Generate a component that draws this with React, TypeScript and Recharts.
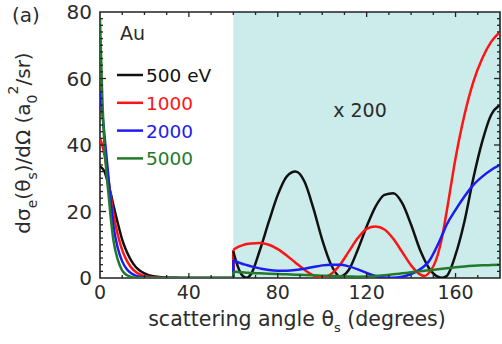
import React from "react";
import { LineChart, Line, XAxis, YAxis, ReferenceArea } from "recharts";

// Elastic scattering cross sections of Au vs. scattering angle (degrees).
// 0–60°: actual values; 60–180°: values multiplied by 200.
const LEFT_ANGLES = [0, 1, 2, 3, 4, 5, 6, 8, 10, 12, 14, 16, 18, 20, 24, 30, 36, 40, 50, 60];
const LEFT_500 = [33.5, 33, 32, 30, 27.5, 25, 22, 16.5, 11.5, 8, 5.3, 3.4, 2.2, 1.4, 0.5, 0.1, 0.03, 0, 0, 0];
const LEFT_1000 = [42, 40, 37, 33, 28.5, 24, 19.5, 13, 8.4, 5.3, 3.2, 1.9, 1.1, 0.6, 0.2, 0.03, 0, 0, 0, 0];
const LEFT_2000 = [56, 50, 43, 36, 29, 22, 16, 9, 5, 2.7, 1.4, 0.7, 0.35, 0.15, 0.03, 0, 0, 0, 0, 0];
const LEFT_5000 = [78, 55, 40, 31, 24, 17, 11.5, 5.5, 2.2, 0.9, 0.35, 0.1, 0.03, 0, 0, 0, 0, 0, 0, 0];

const RIGHT_ANGLES = [60, 62, 64, 66, 68, 72, 76, 80, 84, 88, 92, 96, 100, 104, 108, 112, 116, 120, 124, 128, 132, 136, 140, 144, 146, 148, 152, 154, 156, 160, 164, 168, 172, 176, 180];
const RIGHT_500 = [8, 3.5, 0.8, 0.1, 1.2, 8.5, 17, 25, 30.5, 32, 29, 21, 11.5, 4, 0.5, 2.5, 8.5, 15.5, 21.5, 25, 25.5, 22.5, 16, 8.5, 5.5, 3, 0.4, 0.1, 0.6, 7, 17, 30, 41, 49, 52];
const RIGHT_1000 = [8.5, 9.3, 9.8, 10.2, 10.4, 10.5, 10, 8.7, 6.8, 4.6, 2.5, 0.8, 0.1, 1.2, 4, 8, 12, 14.8, 15.5, 14.6, 11.8, 7.8, 3.8, 1.1, 0.6, 1.5, 7, 12.5, 20, 36, 49, 59, 66, 71, 74];
const RIGHT_2000 = [5.4, 4.8, 4.3, 3.9, 3.5, 2.9, 2.4, 2.2, 2.2, 2.4, 2.8, 3.3, 3.8, 4, 4, 3.5, 2.6, 1.5, 0.6, 0.15, 0.05, 0.4, 1.2, 2.6, 3.6, 5, 10, 13, 16, 20.5, 24.5, 28, 30.5, 32.5, 34];
const RIGHT_5000 = [1.9, 1.8, 1.7, 1.6, 1.5, 1.4, 1.3, 1.2, 1.1, 1, 0.9, 0.8, 0.7, 0.6, 0.5, 0.45, 0.4, 0.45, 0.6, 0.85, 1.1, 1.4, 1.7, 2, 2.15, 2.3, 2.6, 2.75, 2.9, 3.2, 3.45, 3.65, 3.8, 3.9, 4];

const SERIES = [
  { key: "e500", label: "500 eV", color: "#111111", left: LEFT_500, right: RIGHT_500 },
  { key: "e1000", label: "1000", color: "#ff1414", left: LEFT_1000, right: RIGHT_1000 },
  { key: "e2000", label: "2000", color: "#1c1cf0", left: LEFT_2000, right: RIGHT_2000 },
  { key: "e5000", label: "5000", color: "#237a2a", left: LEFT_5000, right: RIGHT_5000 },
];

// labelled ticks
const X_LABELS = [0, 40, 80, 120, 160];
const Y_LABELS = [0, 20, 40, 60, 80];
// all tick marks (every 10° / every 2 units)
const X_MARKS = [0, 10, 20, 30, 40, 50, 60, 70, 80, 90, 100, 110, 120, 130, 140, 150, 160, 170];
const Y_MARKS = [0, 2, 4, 6, 8, 10, 12, 14, 16, 18, 20, 22, 24, 26, 28, 30, 32, 34, 36, 38, 40, 42, 44, 46, 48, 50, 52, 54, 56, 58, 60, 62, 64, 66, 68, 70, 72, 74, 76, 78, 80];

const leftData = LEFT_ANGLES.map((angle, i) => {
  const row: Record<string, number> = { angle };
  SERIES.forEach((s) => (row[s.key] = s.left[i]));
  return row;
});
const rightData = RIGHT_ANGLES.map((angle, i) => {
  const row: Record<string, number> = { angle };
  SERIES.forEach((s) => (row[s.key] = s.right[i]));
  return row;
});
// step at 60° where the ×200 scaling begins
const jumpData = [0, 1].map((j) => {
  const row: Record<string, number> = { angle: 60 };
  SERIES.forEach((s) => (row[s.key] = j === 0 ? s.left[s.left.length - 1] : s.right[0]));
  return row;
});

const FONT = "'DejaVu Sans', Verdana, sans-serif";
const TXT = "#2b2b2b";
const MARK = "#222";
const W = 502;
const H = 344;
const GAP = 8;

const xLen = (v: number) => (v % 40 === 0 ? 5 : 3);
const yLen = (v: number) => (v % 20 === 0 ? 6 : 3);

// tick renderers: inward marks plus labels where labelled
const BottomTick = (p: any) => {
  const v = p.payload.value;
  const ay = p.y - GAP;
  return (
    <g>
      {v > 0 && <line x1={p.x} x2={p.x} y1={ay} y2={ay - xLen(v)} stroke={MARK} strokeWidth={1.3} />}
      {X_LABELS.includes(v) && (
        <text x={p.x} y={p.y} dy="0.71em" textAnchor="middle" fontSize={19} fill={TXT} fontFamily={FONT}>{v}</text>
      )}
    </g>
  );
};
const TopTick = (p: any) => {
  const v = p.payload.value;
  if (v <= 0) return <g />;
  return <line x1={p.x} x2={p.x} y1={p.y} y2={p.y + xLen(v)} stroke={MARK} strokeWidth={1.3} />;
};
const LeftTick = (p: any) => {
  const v = p.payload.value;
  const ax = p.x + GAP;
  return (
    <g>
      {v > 0 && v < 80 && <line x1={ax} x2={ax + yLen(v)} y1={p.y} y2={p.y} stroke={MARK} strokeWidth={1.3} />}
      {Y_LABELS.includes(v) && (
        <text x={p.x} y={p.y} dy="0.355em" textAnchor="end" fontSize={20} fill={TXT} fontFamily={FONT}>{v}</text>
      )}
    </g>
  );
};
const RightTick = (p: any) => {
  const v = p.payload.value;
  if (v <= 0 || v >= 80) return <g />;
  return <line x1={p.x} x2={p.x - yLen(v)} y1={p.y} y2={p.y} stroke={MARK} strokeWidth={1.3} />;
};

export default function App() {
  return (
    <div style={{ position: "absolute", left: 0, top: 0, width: W, height: H, background: "#fff", fontFamily: FONT }}>
      <LineChart width={W} height={H} margin={{ top: 0, right: 0, bottom: 0, left: 0 }}>
        <ReferenceArea x1={60} x2={180} y1={0} y2={80} fill="#cbecea" fillOpacity={1} stroke="none" />
        <XAxis type="number" dataKey="angle" domain={[0, 180]} ticks={X_MARKS} interval={0} allowDataOverflow
          height={66} tickSize={0} tickMargin={GAP} axisLine={false} tick={BottomTick} />
        <YAxis type="number" domain={[0, 80]} ticks={Y_MARKS} interval={0} allowDataOverflow
          width={100} tickSize={0} tickMargin={GAP} axisLine={false} tick={LeftTick} />
        <XAxis xAxisId="top" orientation="top" type="number" dataKey="angle" domain={[0, 180]} ticks={X_MARKS} interval={0}
          allowDataOverflow height={12} tickSize={0} tickMargin={0} axisLine={false} tick={TopTick} />
        <YAxis yAxisId="right" orientation="right" type="number" domain={[0, 80]} ticks={Y_MARKS} interval={0}
          allowDataOverflow width={2} tickSize={0} tickMargin={0} axisLine={false} tick={RightTick} />
        {/* carrier series for the top/right tick axes */}
        <Line data={leftData} dataKey="e500" xAxisId="top" yAxisId="right" stroke="none" dot={false} activeDot={false}
          legendType="none" isAnimationActive={false} />
        {SERIES.map((s) => (
          <Line key={`L${s.key}`} data={leftData} dataKey={s.key} type="monotone" stroke={s.color} strokeWidth={2.5} dot={false} isAnimationActive={false} />
        ))}
        {SERIES.map((s) => (
          <Line key={`J${s.key}`} data={jumpData} dataKey={s.key} type="linear" stroke={s.color} strokeWidth={2.5} dot={false} isAnimationActive={false} />
        ))}
        {SERIES.map((s) => (
          <Line key={`R${s.key}`} data={rightData} dataKey={s.key} type="monotone" stroke={s.color} strokeWidth={2.5} dot={false} isAnimationActive={false} />
        ))}
        <ReferenceArea x1={0} x2={180} y1={0} y2={80} fill="none" stroke="#222" strokeWidth={1.6} />
      </LineChart>
      <svg width={W} height={H} style={{ position: "absolute", left: 0, top: 0, pointerEvents: "none" }} fontFamily={FONT}>
        <text x={12} y={22} fontSize={20} fill={TXT}>(a)</text>
        <text x={120} y={40} fontSize={19} fill={TXT}>Au</text>
        {SERIES.map((s, i) => {
          const cy = 75 + i * 27.8;
          return (
            <g key={s.key}>
              <line x1={117} x2={143} y1={cy} y2={cy} stroke={s.color} strokeWidth={2.5} />
              <text x={146} y={cy + 7} fontSize={18.5} fill={s.color}>{s.label}</text>
            </g>
          );
        })}
        <text x={360} y={117} fontSize={19} fill={TXT} textAnchor="middle">x 200</text>
        <text x={297} y={326} fontSize={20.5} fill={TXT} textAnchor="middle">
          scattering angle θ<tspan dy={6} fontSize={13}>s</tspan><tspan dy={-6}> (degrees)</tspan>
        </text>
        <text transform="translate(30,143) rotate(-90)" fontSize={20} fill={TXT} textAnchor="middle">
          dσ<tspan dy={7} fontSize={14}>e</tspan>
          <tspan dy={-7}>(θ</tspan>
          <tspan dy={7} fontSize={14}>s</tspan>
          <tspan dy={-7}>)/dΩ (a</tspan>
          <tspan dy={7} fontSize={14}>0</tspan>
          <tspan dy={-19} fontSize={14}>2</tspan>
          <tspan dy={12}>/sr)</tspan>
        </text>
      </svg>
    </div>
  );
}
